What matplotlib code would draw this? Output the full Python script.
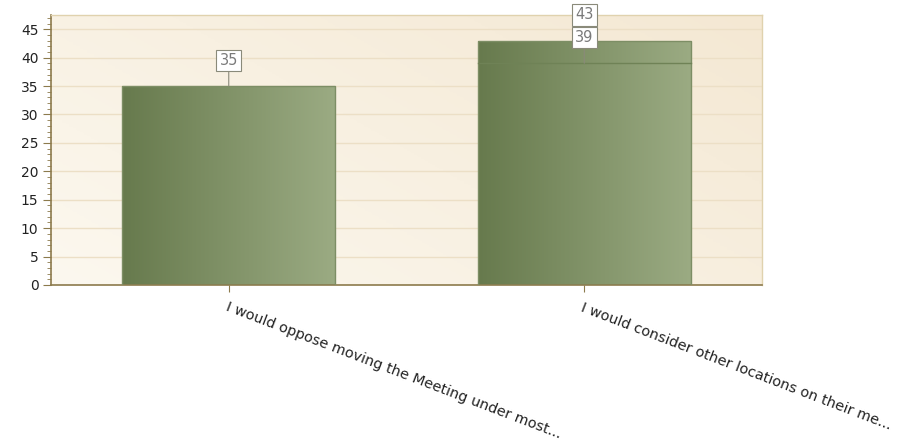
import numpy as np
import matplotlib
matplotlib.use("Agg")
import matplotlib.pyplot as plt
from matplotlib.colors import LinearSegmentedColormap
from matplotlib.ticker import MultipleLocator

categories = ["I would oppose moving the Meeting under most...",
              "I would consider other locations on their me..."]
values_main = [35, 43]
values_second = [np.nan, 39]
y_max = 47.5

fig = plt.figure(figsize=(8.99, 4.41), dpi=100)
ax = fig.add_axes([51/899, 1-285/441, (762-51)/899, (285-15)/441])

x = np.arange(len(categories))
ax.set_xlim(-0.5, len(categories)-0.5)
ax.set_ylim(0, y_max)

# background gradient
bg = LinearSegmentedColormap.from_list("bg", ["#fcf8ef", "#f4e8d3"])
gx, gy = np.meshgrid(np.linspace(0, 1, 200), np.linspace(0, 1, 200))
ax.imshow(0.6*gx + 0.4*(1-gy), cmap=bg, extent=[0, 1, 0, 1], transform=ax.transAxes,
          aspect="auto", zorder=0, origin="upper")
ax.patch.set_visible(False)

# grid lines
for v in range(5, 50, 5):
    ax.axhline(v, color="#ecdfc6", lw=1, zorder=1)

barcmap = LinearSegmentedColormap.from_list("bar", ["#677a4d", "#9bab83"])
grad = np.linspace(0, 1, 256).reshape(1, -1)
width = 0.6

def grad_bar(xc, h):
    bars = ax.bar([xc], [h], width=width, color="none", edgecolor="#7d8e65", lw=1, zorder=3)
    b = bars[0]
    im = ax.imshow(grad, cmap=barcmap, extent=[xc-width/2, xc+width/2, 0, h],
                   aspect="auto", zorder=2)
    im.set_clip_path(b)

for xi, v in zip(x, values_main):
    grad_bar(xi, v)
for xi, v in zip(x, values_second):
    if not np.isnan(v):
        ax.plot([xi-width/2, xi+width/2], [v, v], color="#6f8256", lw=1, zorder=3)

def label(xi, v):
    ax.annotate(str(int(v)), xy=(xi, v), xytext=(0, 18.5), textcoords="offset points",
                ha="center", va="center", fontsize=10.5, color="#7a7a7a",
                bbox=dict(boxstyle="square,pad=0.22", fc="white", ec="#8a8a7a", lw=0.8),
                arrowprops=dict(arrowstyle="-", color="#8a8a7a", lw=0.8, shrinkA=0, shrinkB=0),
                zorder=5, annotation_clip=False)

for xi, v in zip(x, values_main):
    label(xi, v)
for xi, v in zip(x, values_second):
    if not np.isnan(v):
        label(xi, v)

# spines
for s in ["top", "right"]:
    ax.spines[s].set_color("#e0d2ae")
    ax.spines[s].set_linewidth(1)
for s in ["left", "bottom"]:
    ax.spines[s].set_color("#8c7a4c")
    ax.spines[s].set_linewidth(1.2)

ax.yaxis.set_major_locator(MultipleLocator(5))
ax.yaxis.set_minor_locator(MultipleLocator(1))
ax.tick_params(axis="y", which="major", length=6, color="#8c7a4c", labelsize=10,
               labelcolor="#222222", pad=3)
ax.tick_params(axis="y", which="minor", length=3, color="#8c7a4c")
ax.set_xticks(x)
ax.set_xticklabels(categories, rotation=-21, ha="left", va="top",
                   rotation_mode="anchor", fontsize=10.4, color="#222222")
ax.tick_params(axis="x", length=5, color="#8c7a4c", pad=6)

fig.savefig("out.png", dpi=100)
